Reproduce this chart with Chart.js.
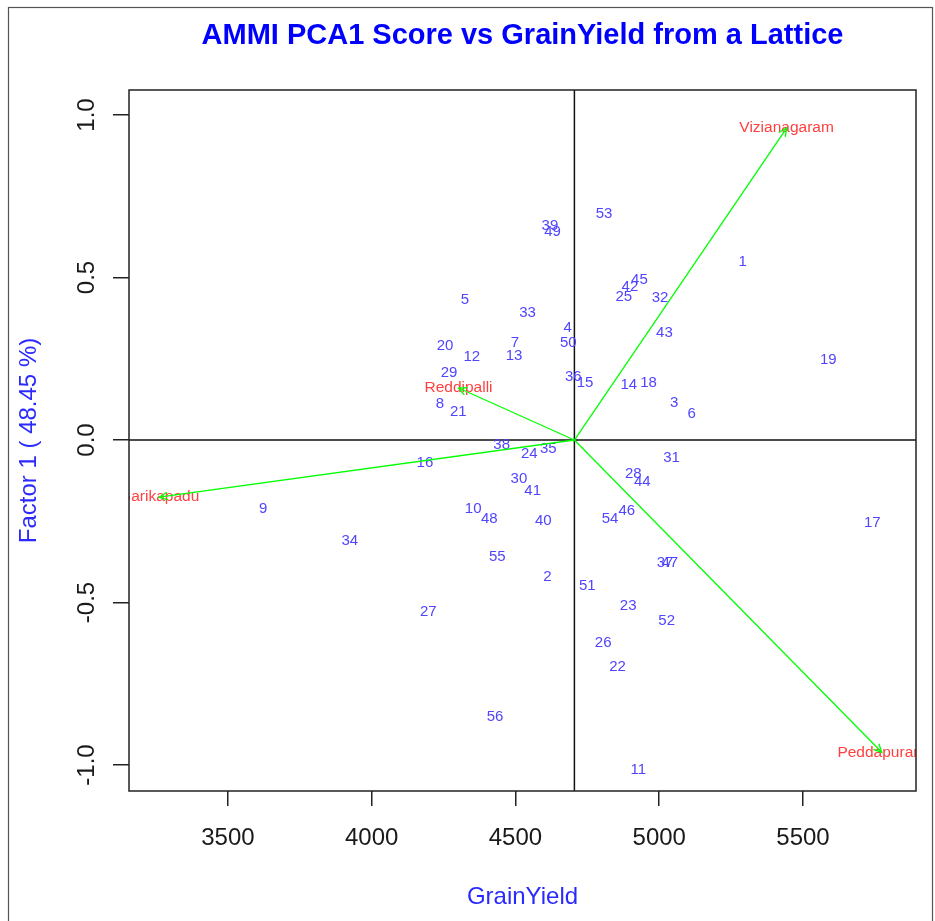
<!DOCTYPE html>
<html>
<head>
<meta charset="utf-8">
<script src="https://cdn.jsdelivr.net/npm/chart.js@4.4.1/dist/chart.umd.min.js"></script>
<style>
  html, body { margin: 0; padding: 0; background: #fff; }
  canvas { display: block; }
</style>
</head>
<body>
<canvas id="ammiChart" width="935" height="921"></canvas>
<script>
// genotype scores
const genotypes = ['1','2','3','4','5','6','7','8','9','10','11','12','13','14','15','16','17','18','19','20',
  '21','22','23','24','25','26','27','28','29','30','31','32','33','34','35','36','37','38','39','40',
  '41','42','43','44','45','46','47','48','49','50','51','52','53','54','55','56'];
const grainYield = [5290, 4611, 5052, 4682, 4324, 5113, 4498, 4237, 3623, 4353,
  4927, 4348, 4495, 4894, 4742, 4185, 5741, 4963, 5588, 4255,
  4301, 4855, 4892, 4548, 4877, 4805, 4197, 4910, 4269, 4512,
  5043, 5003, 4542, 3924, 4614, 4701, 5020, 4452, 4620, 4597,
  4560, 4898, 5018, 4941, 4931, 4887, 5037, 4409, 4629, 4684,
  4750, 5026, 4808, 4829, 4437, 4429];
const pca1 = [0.547, -0.422, 0.113, 0.344, 0.431, 0.082, 0.298, 0.111, -0.212, -0.212,
  -1.014, 0.255, 0.260, 0.170, 0.175, -0.070, -0.256, 0.175, 0.248, 0.291,
  0.088, -0.697, -0.509, -0.042, 0.441, -0.624, -0.528, -0.104, 0.206, -0.119,
  -0.055, 0.436, 0.391, -0.311, -0.027, 0.195, -0.379, -0.014, 0.660, -0.248,
  -0.155, 0.472, 0.329, -0.130, 0.493, -0.217, -0.379, -0.242, 0.639, 0.298,
  -0.448, -0.558, 0.696, -0.242, -0.361, -0.851];

// environment vectors
const envNames = ['Vizianagaram', 'Reddipalli', 'Garikapadu', 'Peddapuram'];
const envYield = [5443, 4302, 3261, 5774];
const envPca1 = [0.960, 0.160, -0.176, -0.961];
const meanYield = 4705;

const xTicks = [3500, 4000, 4500, 5000, 5500];
const yTicks = [-1.0, -0.5, 0.0, 0.5, 1.0];

const FONT = '"Liberation Sans", Arial, sans-serif';

const genoData = grainYield.map((g, i) => ({ x: g, y: pca1[i] }));
const arrowSets = envNames.map((n, i) => ({
  label: n,
  data: [{ x: meanYield, y: 0 }, { x: envYield[i], y: envPca1[i] }],
  showLine: true,
  borderColor: '#00ff00',
  borderWidth: 1.3,
  pointRadius: 0
}));

function clipArea(ctx, a) {
  ctx.beginPath();
  ctx.rect(a.left, a.top, a.right - a.left, a.bottom - a.top);
  ctx.clip();
}

const biplotDecor = {
  id: 'biplotDecor',
  beforeDatasetsDraw(chart) {
    const { ctx, chartArea: a, scales: { x, y } } = chart;
    ctx.save();
    clipArea(ctx, a);
    // reference lines at mean yield and zero score
    ctx.strokeStyle = '#111';
    ctx.lineWidth = 1.5;
    const mx = x.getPixelForValue(meanYield), zy = y.getPixelForValue(0);
    ctx.beginPath();
    ctx.moveTo(mx, a.top); ctx.lineTo(mx, a.bottom);
    ctx.moveTo(a.left, zy); ctx.lineTo(a.right, zy);
    ctx.stroke();

    // genotype numbers
    ctx.font = '15px ' + FONT;
    ctx.fillStyle = '#5044ff';
    ctx.textAlign = 'center';
    ctx.textBaseline = 'middle';
    chart.getDatasetMeta(0).data.forEach((pt, i) => ctx.fillText(genotypes[i], pt.x, pt.y));

    // environment names
    ctx.font = '15.5px ' + FONT;
    ctx.fillStyle = '#ff4040';
    envNames.forEach((n, i) => {
      const p = chart.getDatasetMeta(i + 1).data[1];
      ctx.fillText(n, p.x, p.y);
    });
    ctx.restore();
  },
  afterDatasetsDraw(chart) {
    const { ctx, chartArea: a, scales: { x, y } } = chart;
    ctx.save();
    clipArea(ctx, a);
    ctx.strokeStyle = '#00ff00';
    ctx.lineWidth = 1.3;
    envNames.forEach((n, i) => {
      const pts = chart.getDatasetMeta(i + 1).data;
      const ang = Math.atan2(pts[1].y - pts[0].y, pts[1].x - pts[0].x);
      const len = 9;
      ctx.beginPath();
      ctx.moveTo(pts[1].x - len * Math.cos(ang - 0.45), pts[1].y - len * Math.sin(ang - 0.45));
      ctx.lineTo(pts[1].x, pts[1].y);
      ctx.lineTo(pts[1].x - len * Math.cos(ang + 0.45), pts[1].y - len * Math.sin(ang + 0.45));
      ctx.stroke();
    });
    ctx.restore();

    ctx.save();
    // plot box
    ctx.strokeStyle = '#222';
    ctx.lineWidth = 1.5;
    ctx.strokeRect(a.left, a.top, a.right - a.left, a.bottom - a.top);
    // outer frame
    ctx.strokeStyle = '#555';
    ctx.lineWidth = 1.2;
    ctx.strokeRect(8.5, 7.5, 924, 930);

    // tick labels
    ctx.fillStyle = '#1a1a1a';
    ctx.font = '24px ' + FONT;
    ctx.textAlign = 'center';
    ctx.textBaseline = 'alphabetic';
    xTicks.forEach(v => ctx.fillText(String(v), x.getPixelForValue(v), 845));
    yTicks.forEach(v => {
      ctx.save();
      ctx.translate(94, y.getPixelForValue(v));
      ctx.rotate(-Math.PI / 2);
      ctx.fillText(v.toFixed(1), 0, 0);
      ctx.restore();
    });

    // titles
    const cx = (a.left + a.right) / 2;
    ctx.fillStyle = '#0000ff';
    ctx.font = 'bold 29px ' + FONT;
    ctx.fillText('AMMI PCA1 Score vs GrainYield from a Lattice', cx, 44);
    ctx.fillStyle = '#2a2aff';
    ctx.font = '24px ' + FONT;
    ctx.fillText('GrainYield', cx, 904);
    ctx.save();
    ctx.translate(36, (a.top + a.bottom) / 2);
    ctx.rotate(-Math.PI / 2);
    ctx.fillText('Factor 1 ( 48.45 %)', 0, 0);
    ctx.restore();
    ctx.restore();
  }
};

new Chart(document.getElementById('ammiChart').getContext('2d'), {
  type: 'scatter',
  data: {
    datasets: [
      { label: 'Genotypes', data: genoData, pointRadius: 0, borderColor: 'rgba(0,0,0,0)', backgroundColor: 'rgba(0,0,0,0)' },
      ...arrowSets
    ]
  },
  options: {
    responsive: false,
    animation: false,
    devicePixelRatio: 1,
    layout: { padding: { top: 90, right: 19, bottom: 0, left: 0 } },
    plugins: { legend: { display: false }, tooltip: { enabled: false }, title: { display: false } },
    scales: {
      x: {
        type: 'linear', min: 3156, max: 5893,
        afterBuildTicks: s => { s.ticks = xTicks.map(v => ({ value: v })); },
        afterFit: s => { s.height = 130; },
        grid: { drawOnChartArea: false, drawTicks: true, tickLength: 15, color: '#222', lineWidth: 1.5 },
        border: { display: false },
        ticks: { autoSkip: false, maxRotation: 0, color: 'rgba(0,0,0,0)', font: { size: 24 } }
      },
      y: {
        type: 'linear', min: -1.08, max: 1.077,
        afterBuildTicks: s => { s.ticks = yTicks.map(v => ({ value: v })); },
        afterFit: s => { s.width = 129; },
        grid: { drawOnChartArea: false, drawTicks: true, tickLength: 16, color: '#222', lineWidth: 1.5 },
        border: { display: false },
        ticks: { autoSkip: false, color: 'rgba(0,0,0,0)', font: { size: 24 } }
      }
    }
  },
  plugins: [biplotDecor]
});
</script>
</body>
</html>
